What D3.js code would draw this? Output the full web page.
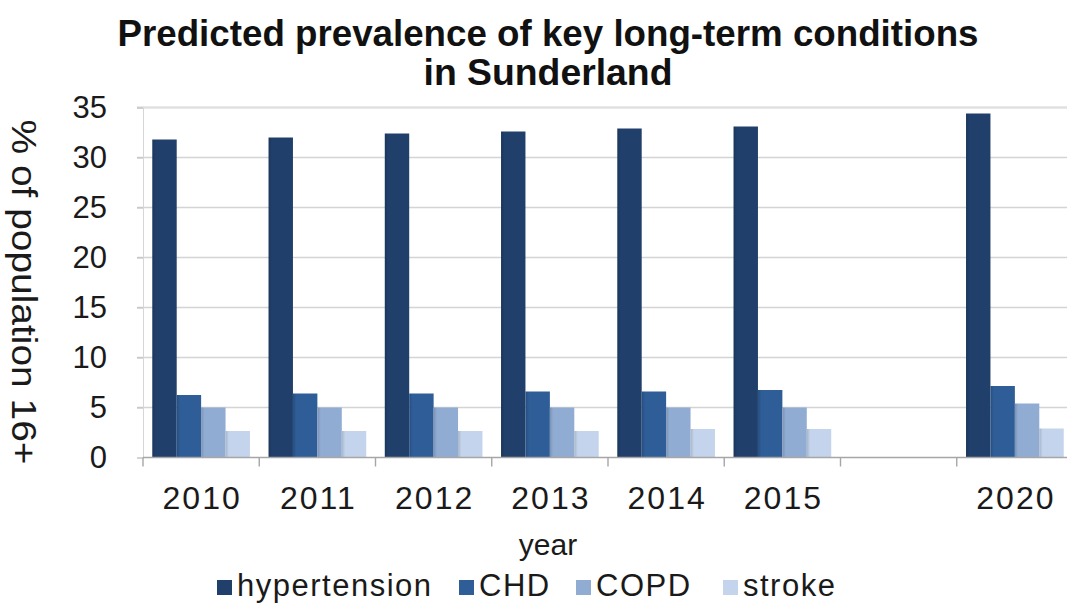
<!DOCTYPE html>
<html>
<head>
<meta charset="utf-8">
<script src="https://cdn.jsdelivr.net/npm/d3@7"></script>
<style>
  html, body { margin: 0; padding: 0; background: #fff; }
  svg { display: block; font-family: "Liberation Sans", Arial, sans-serif; }
</style>
</head>
<body>
<svg id="chart" width="1067" height="607"></svg>
<script>
// Predicted prevalence (% of population aged 16+), Sunderland
const years = ["2010", "2011", "2012", "2013", "2014", "2015", "", "2020"];
const seriesNames = ["hypertension", "CHD", "COPD", "stroke"];
const hypertension = [31.8, 32.0, 32.4, 32.6, 32.9, 33.1, null, 34.4];
const chd          = [6.25, 6.4, 6.4, 6.6, 6.6, 6.75, null, 7.15];
const copd         = [5.0, 5.0, 5.0, 5.0, 5.0, 5.0, null, 5.4];
const stroke       = [2.65, 2.65, 2.65, 2.65, 2.85, 2.85, null, 2.9];
const yTicks = [0, 5, 10, 15, 20, 25, 30, 35];
const colors = ["#203f6b", "#2e5d97", "#91acd3", "#c3d4ec"];

const seriesValues = [hypertension, chd, copd, stroke];
const rows = years.map((y, i) => ({
  year: y,
  key: "c" + i,
  values: seriesNames.map((s, j) => ({ name: s, value: seriesValues[j][i] }))
}));

const svg = d3.select("#chart");
const left = 143, bandW = 116.25;
const x0 = d3.scaleBand().domain(rows.map(d => d.key))
  .range([left, left + bandW * years.length]).padding(0);
const x1 = d3.scaleBand().domain(seriesNames)
  .range([0, x0.bandwidth()]).paddingInner(0).paddingOuter(0.38);
const y = d3.scaleLinear().domain([0, 35]).range([457.5, 107.5]);

// gradients giving the bars a slightly shaded left edge
const defs = svg.append("defs");
colors.forEach((c, i) => {
  const g = defs.append("linearGradient").attr("id", "g" + i)
    .attr("x1", "0").attr("x2", "1").attr("y1", "0").attr("y2", "0");
  g.append("stop").attr("offset", "0").attr("stop-color", d3.color(c).darker(0.45));
  g.append("stop").attr("offset", "0.14").attr("stop-color", c);
  g.append("stop").attr("offset", "1").attr("stop-color", c);
});

// horizontal gridlines
svg.append("g").selectAll("line").data(yTicks.filter(t => t > 0)).join("line")
  .attr("x1", left - 6).attr("x2", 1067)
  .attr("y1", d => y(d)).attr("y2", d => y(d))
  .attr("stroke", d => d === 35 ? "#e0e0e0" : "#d4d4d4")
  .attr("stroke-width", d => d === 35 ? 2.4 : 1.6);

// y axis
const yAxis = svg.append("g").attr("transform", `translate(${left},0)`)
  .call(d3.axisLeft(y).tickValues(yTicks).tickSize(6).tickPadding(30));
yAxis.select(".domain").attr("stroke", "#d6d6d6");
yAxis.selectAll(".tick line").attr("stroke", "#bdbdbd");
yAxis.selectAll("text").attr("font-size", 31).attr("fill", "#1a1a1a")
  .attr("font-family", "'Liberation Sans', Arial, sans-serif");

// bars
const groups = svg.append("g").selectAll("g").data(rows).join("g")
  .attr("transform", d => `translate(${x0(d.key)},0)`);
groups.selectAll("rect").data(d => d.values.filter(v => v.value != null)).join("rect")
  .attr("x", d => x1(d.name)).attr("width", x1.bandwidth())
  .attr("y", d => y(d.value)).attr("height", d => y(0) - y(d.value))
  .attr("fill", d => `url(#g${seriesNames.indexOf(d.name)})`);

// x axis with ticks at the category boundaries
const xAxis = svg.append("g").attr("transform", `translate(0,${y(0)})`);
xAxis.append("line").attr("x1", left).attr("x2", 1067)
  .attr("stroke", "#a6a6a6").attr("stroke-width", 1.4);
xAxis.selectAll(".bt").data(d3.range(years.length + 1)).join("line")
  .attr("class", "bt")
  .attr("x1", i => left + i * x0.step()).attr("x2", i => left + i * x0.step())
  .attr("y1", 0).attr("y2", 9).attr("stroke", "#a6a6a6").attr("stroke-width", 1.4);
xAxis.selectAll("text").data(rows).join("text")
  .attr("x", d => x0(d.key) + x0.bandwidth() / 2 + 1).attr("y", 51)
  .attr("text-anchor", "middle").attr("font-size", 32).attr("letter-spacing", 2)
  .attr("fill", "#1a1a1a")
  .text(d => d.year);

// titles
const title = svg.append("text").attr("text-anchor", "middle")
  .attr("font-size", 37).attr("font-weight", "bold").attr("fill", "#111");
title.append("tspan").attr("x", 548).attr("y", 46)
  .attr("textLength", 861).attr("lengthAdjust", "spacingAndGlyphs")
  .text("Predicted prevalence of key long-term conditions");
title.append("tspan").attr("x", 548).attr("y", 85)
  .attr("textLength", 249).attr("lengthAdjust", "spacingAndGlyphs")
  .text("in Sunderland");

svg.append("text").attr("x", 548).attr("y", 555).attr("text-anchor", "middle")
  .attr("font-size", 30).attr("fill", "#1a1a1a").text("year");

svg.append("text").attr("transform", "translate(12,292) rotate(90)")
  .attr("text-anchor", "middle").attr("font-size", 35).attr("fill", "#1a1a1a")
  .attr("textLength", 345).attr("lengthAdjust", "spacingAndGlyphs")
  .text("% of population 16+");

// legend
const legendX = [217, 459, 576, 723];
const legend = svg.append("g").selectAll("g").data(seriesNames).join("g")
  .attr("transform", (d, i) => `translate(${legendX[i]},580)`);
legend.append("rect").attr("width", 15).attr("height", 15).attr("y", 0)
  .attr("fill", (d, i) => colors[i]);
legend.append("text").attr("x", 20).attr("y", 16).attr("font-size", 31)
  .attr("letter-spacing", 1.5)
  .attr("fill", "#1a1a1a").text(d => d);
</script>
</body>
</html>
